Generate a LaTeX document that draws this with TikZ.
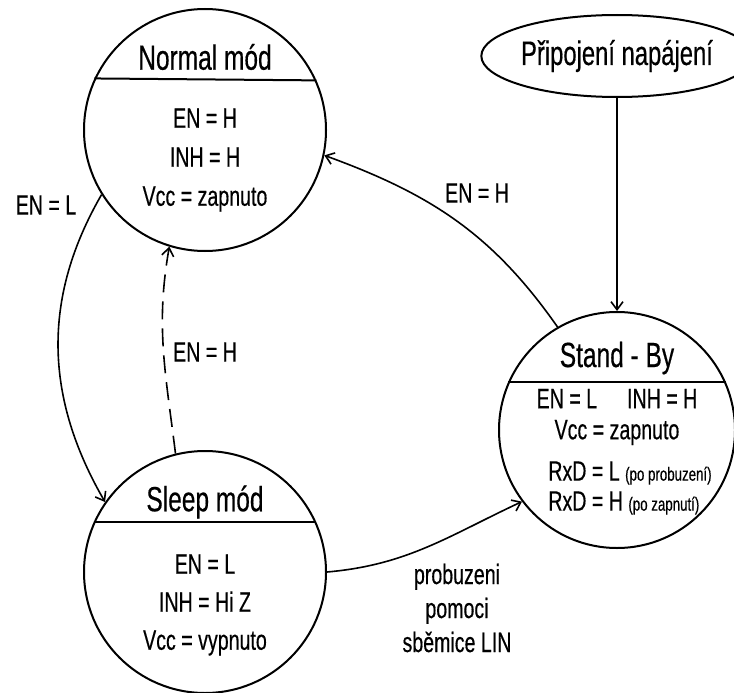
\documentclass[tikz,border=0pt]{standalone}
\usepackage{fontspec}
\setmainfont{Liberation Sans}[FakeStretch=0.7, FakeBold=0.4]
\usetikzlibrary{shapes.geometric,arrows.meta}
\tikzset{
  state/.style={draw, circle, line width=2pt, minimum size=242pt, inner sep=0pt},
  head/.style={font=\fontsize{35}{40}\selectfont},
  body/.style={font=\fontsize{28}{39}\selectfont, align=center},
  lbl/.style={font=\fontsize{28}{30}\selectfont},
  arr/.style={-{Straight Barb[length=8pt,width=12pt]}, line width=1.6pt}
}
\begin{document}
\begin{tikzpicture}[x=1pt,y=-1pt]
  \useasboundingbox (0,0) rectangle (734,693);
  % stavy
  \node[state] (normal) at (205,130) {};
  \draw[line width=2pt] (normal.155.6) -- (normal.24.4);
  \node[head] (normalhead) at (205,57) {Normal mód};
  \node[body] (normalbody) at (205,160) {EN = H\\INH = H\\Vcc = zapnuto};

  \node[state] (sleep) at (205,572) {};
  \draw[line width=2pt] (sleep.156) -- (sleep.24);
  \node[head] (sleephead) at (205,502) {Sleep mód};
  \node[body, font=\fontsize{28}{38}\selectfont] (sleepbody) at (205,605) {EN = L\\INH = Hi Z\\Vcc = vypnuto};

  \node[state, minimum size=236pt] (standby) at (617,430) {};
  \draw[line width=2pt] (standby.156) -- (standby.24);
  \node[head] (standbyhead) at (617,358) {Stand - By};
  \node[body, font=\fontsize{28}{31}\selectfont] (standbybody) at (617,417) {EN = L\hspace{30pt}INH = H\\Vcc = zapnuto};
  \node[body, align=left, font=\fontsize{28}{30}\selectfont] (standbyrxd) at (630,488)
    {RxD = L {\fontsize{19}{20}\selectfont (po probuzení)}\\RxD = H {\fontsize{19}{20}\selectfont (po zapnutí)}};

  \node[draw, ellipse, line width=2pt, minimum width=230pt, minimum height=82pt, inner sep=0pt,
    font=\fontsize{34}{36}\selectfont] (napajeni) at (617,56) {Připojení napájení};

  % prechody
  \draw[arr] (napajeni.south) -- (standby.north);
  \draw[arr] (standby.120) to[out=125, in=-20] (normal.-12.7);
  \draw[arr] (normal.212.5) to[out=-120, in=120] (sleep.145);
  \draw[arr, dash pattern=on 18pt off 9pt] (sleep.104) to[out=97, in=-100] (normal.253);
  \draw[arr] (sleep.0) to[out=5, in=205] (standby.217.7);

  \node[lbl] (lblnormalsleep) at (46,205) {EN = L};
  \node[lbl] (lblstandbynormal) at (477,193) {EN = H};
  \node[lbl] (lblsleepnormal) at (205,352) {EN = H};
  \node[body, font=\fontsize{28}{34}\selectfont] (lblsleepstandby) at (457,608) {probuzeni\\pomoci\\sběmice LIN};
\end{tikzpicture}
\end{document}
